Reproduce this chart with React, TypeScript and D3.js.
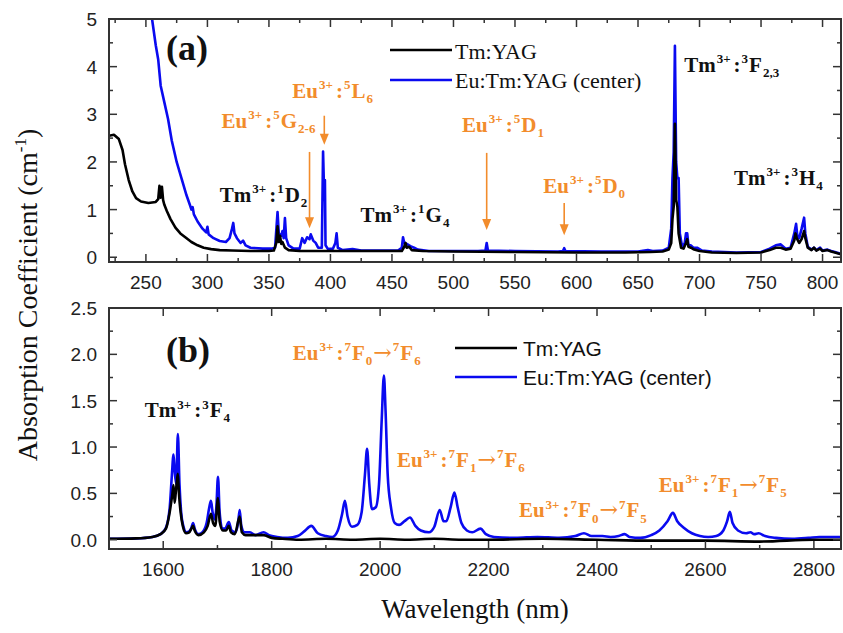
import React from "react";
import * as d3 from "d3";

// ---------- DATA ----------
// Panel (a): UV-VIS absorption, wavelength (nm) vs coefficient (cm^-1)
const tmTopData: [number, number][] = [
  [220, 2.55], [224, 2.57], [228, 2.48], [231, 2.25], [233, 1.95], [236, 1.62], [239, 1.38], [242, 1.24],
  [246, 1.17], [252, 1.14], [258, 1.16], [260, 1.22], [261, 1.5], [262, 1.25], [263, 1.48], [264, 1.2],
  [265, 1.1], [267, 0.97], [270, 0.8], [274, 0.62], [278, 0.5], [282, 0.42], [287, 0.32], [292, 0.25],
  [297, 0.2], [303, 0.17], [310, 0.15], [320, 0.14], [335, 0.13], [350, 0.13], [354, 0.14], [356, 0.3],
  [357, 0.65], [358, 0.32], [359, 0.45], [360, 0.28], [361, 0.32], [363, 0.2], [366, 0.15], [375, 0.13],
  [400, 0.13], [430, 0.13], [458, 0.13], [460, 0.22], [461, 0.3], [462, 0.2], [464, 0.22], [466, 0.15],
  [475, 0.13], [500, 0.12], [550, 0.11], [600, 0.1], [640, 0.1], [660, 0.11], [670, 0.12], [675, 0.16],
  [677, 0.3], [678, 0.8], [679, 1.06], [680, 2.8], [681, 1.2], [682, 1.06], [683, 0.5], [685, 0.2],
  [687, 0.18], [689, 0.3], [690, 0.38], [691, 0.22], [693, 0.2], [695, 0.17], [700, 0.13], [710, 0.1],
  [730, 0.09], [750, 0.1], [757, 0.15], [762, 0.2], [766, 0.2], [770, 0.16], [774, 0.18], [777, 0.35],
  [778, 0.5], [779, 0.4], [781, 0.3], [783, 0.38], [785, 0.55], [786, 0.4], [788, 0.2], [791, 0.15],
  [793, 0.2], [795, 0.14], [798, 0.18], [800, 0.13], [804, 0.15], [807, 0.12], [810, 0.1], [815, 0.06],
];

const euTopData: [number, number][] = [
  [248, 6.5], [252, 5.6], [255, 5.0], [258, 4.45], [260, 4.15], [262, 3.6], [265, 3.25], [268, 2.9],
  [271, 2.45], [275, 2.0], [279, 1.65], [283, 1.3], [286, 1.08], [287, 1.0], [288, 1.05], [289, 0.9],
  [292, 0.75], [296, 0.6], [299, 0.52], [300, 0.64], [301, 0.48], [305, 0.4], [310, 0.34], [315, 0.32],
  [318, 0.4], [320, 0.6], [321, 0.72], [322, 0.5], [324, 0.4], [327, 0.3], [329, 0.35], [331, 0.25],
  [335, 0.2], [345, 0.18], [352, 0.18], [355, 0.2], [357, 0.95], [358, 0.5], [360, 0.45], [361, 0.55],
  [362, 0.4], [363, 0.82], [364, 0.4], [366, 0.25], [370, 0.18], [375, 0.18], [377, 0.4], [379, 0.3],
  [381, 0.42], [383, 0.38], [384, 0.48], [386, 0.35], [388, 0.3], [390, 0.2], [393, 0.2], [394, 2.22],
  [395, 1.2], [395.5, 1.62], [396, 0.25], [398, 0.17], [402, 0.18], [404, 0.3], [405, 0.5], [406, 0.2],
  [410, 0.15], [418, 0.17], [425, 0.14], [440, 0.14], [455, 0.14], [458, 0.2], [459, 0.42], [460, 0.3],
  [462, 0.28], [464, 0.25], [466, 0.22], [468, 0.2], [471, 0.16], [480, 0.13], [500, 0.13], [520, 0.13],
  [526, 0.14], [527, 0.3], [528, 0.14], [550, 0.13], [585, 0.12], [589, 0.13], [590, 0.19], [591, 0.13],
  [620, 0.12], [650, 0.12], [658, 0.15], [662, 0.13], [670, 0.14], [675, 0.2], [677, 0.6], [678, 1.66],
  [679, 2.2], [680, 4.44], [681, 2.0], [682, 1.66], [683, 1.66], [684, 0.5], [686, 0.2], [688, 0.3],
  [689, 0.5], [690, 0.5], [691, 0.25], [693, 0.25], [695, 0.2], [698, 0.2], [702, 0.14], [710, 0.12],
  [730, 0.1], [750, 0.11], [757, 0.18], [762, 0.25], [766, 0.27], [770, 0.18], [774, 0.2], [777, 0.5],
  [778.5, 0.7], [779.5, 0.45], [781, 0.4], [783, 0.6], [785, 0.83], [786, 0.5], [788, 0.22], [791, 0.16],
  [793, 0.2], [795, 0.15], [798, 0.2], [800, 0.14], [804, 0.16], [807, 0.13], [810, 0.11], [815, 0.07],
];

// Panel (b): NIR absorption
const tmBotData: [number, number][] = [
  [1500, 0.01], [1550, 0.015], [1580, 0.03], [1595, 0.06], [1605, 0.12], [1612, 0.3], [1617, 0.5],
  [1619, 0.59], [1621, 0.4], [1623, 0.5], [1625, 0.62], [1627, 0.71], [1629, 0.5], [1632, 0.3],
  [1636, 0.15], [1642, 0.07], [1648, 0.08], [1652, 0.12], [1655, 0.15], [1658, 0.1], [1665, 0.05],
  [1675, 0.08], [1682, 0.15], [1688, 0.28], [1692, 0.18], [1696, 0.15], [1701, 0.45], [1704, 0.2],
  [1710, 0.1], [1716, 0.1], [1721, 0.15], [1725, 0.08], [1732, 0.06], [1741, 0.25], [1745, 0.08],
  [1752, 0.05], [1765, 0.05], [1785, 0.05], [1800, 0.02], [1820, 0.01], [1850, 0.0], [1900, 0.01],
  [1950, 0.0], [2000, 0.01], [2050, 0.0], [2100, 0.01], [2150, 0.0], [2200, 0.0], [2300, 0.01],
  [2400, 0.0], [2500, -0.01], [2600, -0.01], [2700, -0.02], [2800, 0.0], [2850, 0.0],
];

const euBotData: [number, number][] = [
  [1500, 0.01], [1550, 0.015], [1580, 0.03], [1595, 0.06], [1605, 0.13], [1612, 0.35], [1616, 0.7],
  [1619, 0.92], [1621, 0.75], [1624, 0.6], [1627, 1.14], [1630, 0.6], [1633, 0.3], [1637, 0.15],
  [1643, 0.08], [1648, 0.09], [1652, 0.13], [1655, 0.18], [1658, 0.12], [1665, 0.06], [1672, 0.08],
  [1680, 0.18], [1685, 0.35], [1688, 0.42], [1691, 0.3], [1695, 0.22], [1698, 0.35], [1701, 0.68],
  [1704, 0.3], [1709, 0.12], [1714, 0.12], [1721, 0.19], [1726, 0.1], [1733, 0.08], [1738, 0.18],
  [1741, 0.32], [1744, 0.15], [1750, 0.08], [1760, 0.08], [1770, 0.05], [1785, 0.08], [1795, 0.05],
  [1810, 0.03], [1830, 0.02], [1848, 0.04], [1860, 0.09], [1873, 0.15], [1885, 0.07], [1900, 0.04],
  [1912, 0.03], [1922, 0.1], [1930, 0.28], [1935, 0.42], [1940, 0.25], [1948, 0.14], [1958, 0.16],
  [1966, 0.3], [1972, 0.7], [1976, 0.98], [1980, 0.6], [1985, 0.33], [1992, 0.35], [1998, 0.6],
  [2003, 1.3], [2007, 1.77], [2010, 1.4], [2014, 0.7], [2020, 0.35], [2027, 0.18], [2035, 0.16],
  [2045, 0.2], [2055, 0.24], [2065, 0.15], [2075, 0.1], [2090, 0.08], [2100, 0.14], [2110, 0.32],
  [2117, 0.2], [2122, 0.2], [2130, 0.35], [2137, 0.51], [2143, 0.35], [2150, 0.18], [2160, 0.1],
  [2170, 0.08], [2185, 0.12], [2195, 0.06], [2210, 0.03], [2250, 0.02], [2290, 0.03], [2330, 0.02],
  [2360, 0.04], [2376, 0.07], [2390, 0.04], [2410, 0.04], [2425, 0.03], [2440, 0.04], [2451, 0.06],
  [2460, 0.03], [2480, 0.02], [2500, 0.05], [2515, 0.1], [2530, 0.2], [2540, 0.29], [2548, 0.2],
  [2560, 0.13], [2575, 0.07], [2590, 0.04], [2605, 0.03], [2620, 0.04], [2633, 0.1], [2640, 0.2],
  [2645, 0.3], [2650, 0.18], [2660, 0.1], [2675, 0.07], [2683, 0.08], [2690, 0.06], [2698, 0.07],
  [2710, 0.04], [2730, 0.02], [2760, 0.01], [2790, 0.02], [2810, 0.03], [2830, 0.03], [2850, 0.03],
];

const topXTicks = [250, 300, 350, 400, 450, 500, 550, 600, 650, 700, 750, 800];
const topYTicks = [0, 1, 2, 3, 4, 5];
const botXTicks = [1600, 1800, 2000, 2200, 2400, 2600, 2800];
const botYTicks = [0, 0.5, 1.0, 1.5, 2.0, 2.5];
const seriesNames = ["Tm:YAG", "Eu:Tm:YAG (center)"];

type Seg = { t: string; s?: "sup" | "sub" };
type Ann = { x: number; y: number; color: string; parts: Seg[] };

const ORANGE = "#f28c2c";
const BLUE = "#0a0af0";

const topAnns: Ann[] = [
  { x: 369, y: 3.35, color: ORANGE, parts: [{ t: "Eu" }, { t: "3+", s: "sup" }, { t: ":" }, { t: "5", s: "sup" }, { t: "L" }, { t: "6", s: "sub" }] },
  { x: 311.5, y: 2.72, color: ORANGE, parts: [{ t: "Eu" }, { t: "3+", s: "sup" }, { t: ":" }, { t: "5", s: "sup" }, { t: "G" }, { t: "2-6", s: "sub" }] },
  { x: 310, y: 1.16, color: "#111", parts: [{ t: "Tm" }, { t: "3+", s: "sup" }, { t: ":" }, { t: "1", s: "sup" }, { t: "D" }, { t: "2", s: "sub" }] },
  { x: 424.5, y: 0.74, color: "#111", parts: [{ t: "Tm" }, { t: "3+", s: "sup" }, { t: ":" }, { t: "1", s: "sup" }, { t: "G" }, { t: "4", s: "sub" }] },
  { x: 507, y: 2.63, color: ORANGE, parts: [{ t: "Eu" }, { t: "3+", s: "sup" }, { t: ":" }, { t: "5", s: "sup" }, { t: "D" }, { t: "1", s: "sub" }] },
  { x: 573, y: 1.35, color: ORANGE, parts: [{ t: "Eu" }, { t: "3+", s: "sup" }, { t: ":" }, { t: "5", s: "sup" }, { t: "D" }, { t: "0", s: "sub" }] },
  { x: 687.5, y: 3.89, color: "#111", parts: [{ t: "Tm" }, { t: "3+", s: "sup" }, { t: ":" }, { t: "3", s: "sup" }, { t: "F" }, { t: "2,3", s: "sub" }] },
  { x: 728, y: 1.52, color: "#111", parts: [{ t: "Tm" }, { t: "3+", s: "sup" }, { t: ":" }, { t: "3", s: "sup" }, { t: "H" }, { t: "4", s: "sub" }] },
];

const topArrows = [
  { x: 395, y1: 2.97, y2: 2.36 },
  { x: 383, y1: 2.21, y2: 0.61 },
  { x: 527, y1: 2.19, y2: 0.57 },
  { x: 590, y1: 1.14, y2: 0.46 },
];

const botAnns: Ann[] = [
  { x: 1566, y: 1.32, color: "#111", parts: [{ t: "Tm" }, { t: "3+", s: "sup" }, { t: ":" }, { t: "3", s: "sup" }, { t: "F" }, { t: "4", s: "sub" }] },
  { x: 1839, y: 1.94, color: ORANGE, parts: [{ t: "Eu" }, { t: "3+", s: "sup" }, { t: ":" }, { t: "7", s: "sup" }, { t: "F" }, { t: "0", s: "sub" }, { t: "→" }, { t: "7", s: "sup" }, { t: "F" }, { t: "6", s: "sub" }] },
  { x: 2031, y: 0.79, color: ORANGE, parts: [{ t: "Eu" }, { t: "3+", s: "sup" }, { t: ":" }, { t: "7", s: "sup" }, { t: "F" }, { t: "1", s: "sub" }, { t: "→" }, { t: "7", s: "sup" }, { t: "F" }, { t: "6", s: "sub" }] },
  { x: 2256, y: 0.24, color: ORANGE, parts: [{ t: "Eu" }, { t: "3+", s: "sup" }, { t: ":" }, { t: "7", s: "sup" }, { t: "F" }, { t: "0", s: "sub" }, { t: "→" }, { t: "7", s: "sup" }, { t: "F" }, { t: "5", s: "sub" }] },
  { x: 2514, y: 0.52, color: ORANGE, parts: [{ t: "Eu" }, { t: "3+", s: "sup" }, { t: ":" }, { t: "7", s: "sup" }, { t: "F" }, { t: "1", s: "sub" }, { t: "→" }, { t: "7", s: "sup" }, { t: "F" }, { t: "5", s: "sub" }] },
];

// ---------- LAYOUT ----------
const W = 843, H = 633;
const L = 109, R = 841;
const topP = { t: 19, b: 262 };
const botP = { t: 308, b: 549 };
const SERIF = "'Liberation Serif', 'Times New Roman', serif";
const SANS = "'Liberation Sans', Arial, sans-serif";

const xTop = d3.scaleLinear().domain([220, 815]).range([L, R]);
const yTop = d3.scaleLinear().domain([-0.1, 5]).range([topP.b, topP.t]);
const xBot = d3.scaleLinear().domain([1500, 2850]).range([L, R]);
const yBot = d3.scaleLinear().domain([-0.1, 2.5]).range([botP.b, botP.t]);

function AnnText({ a, x, y, size }: { a: Ann; x: any; y: any; size: number }) {
  const bx = x(a.x), by = y(a.y);
  const small = size * 0.62;
  return (
    <text x={bx} y={by} fill={a.color} fontFamily={SERIF} fontWeight="bold" fontSize={size}>
      {a.parts.map((p, i) => {
        if (p.s === "sup") return <tspan key={i} y={by - size * 0.42} fontSize={small} dx={1}>{p.t}</tspan>;
        if (p.s === "sub") return <tspan key={i} y={by + size * 0.24} fontSize={small} dx={1}>{p.t}</tspan>;
        const dx = p.t === ":" ? 3 : p.t === "→" ? 1 : i === 0 ? 0 : 1;
        if (p.t === "→") {
          return <tspan key={i} y={by} dx={dx} fontFamily="'DejaVu Serif', serif" fontWeight="normal" fontSize={size * 1.05}>{p.t}</tspan>;
        }
        return <tspan key={i} y={by} dx={dx}>{p.t}</tspan>;
      })}
    </text>
  );
}

function Frame({ x, y, xTicks, xMinor, yTicks, yMinor, fmtY, p }: any) {
  const major = 8, minor = 4;
  return (
    <g stroke="#333" strokeWidth={1.5}>
      {xTicks.concat(xMinor).map((v: number, i: number) => {
        const len = i < xTicks.length ? major : minor;
        const px = x(v);
        return (
          <g key={"x" + v}>
            <line x1={px} x2={px} y1={p.b} y2={p.b - len} />
            <line x1={px} x2={px} y1={p.t} y2={p.t + len} />
          </g>
        );
      })}
      {yTicks.concat(yMinor).map((v: number, i: number) => {
        const len = i < yTicks.length ? major : minor;
        const py = y(v);
        return (
          <g key={"y" + v}>
            <line x1={L} x2={L + len} y1={py} y2={py} />
            <line x1={R} x2={R - len} y1={py} y2={py} />
          </g>
        );
      })}
      <rect x={L} y={p.t} width={R - L} height={p.b - p.t} fill="none" strokeWidth={2} />
      <g stroke="none" fill="#222" fontFamily={SANS} fontSize={19}>
        {xTicks.map((v: number) => (
          <text key={"xl" + v} x={x(v)} y={p.b + 27} textAnchor="middle">{v}</text>
        ))}
        {yTicks.map((v: number) => (
          <text key={"yl" + v} x={97} y={y(v) + 7} textAnchor="end">{fmtY(v)}</text>
        ))}
      </g>
    </g>
  );
}

export default function App() {
  const lineTop = d3.line<[number, number]>().x((d) => xTop(d[0])).y((d) => yTop(d[1]));
  const lineBot = d3.line<[number, number]>().x((d) => xBot(d[0])).y((d) => yBot(d[1])).curve(d3.curveMonotoneX);

  const topMinorX = d3.range(225, 815, 25).filter((v) => v % 50 !== 0);
  const topMinorY = d3.range(0.5, 5, 1);
  const botMinorX = d3.range(1500, 2850, 100).filter((v) => v % 200 !== 0);
  const botMinorY = d3.range(0.25, 2.5, 0.5);

  return (
    <svg width={W} height={H} style={{ position: "absolute", left: 0, top: 0, background: "#fff" }}>
      <defs>
        <clipPath id="clipTop"><rect x={L} y={topP.t} width={R - L} height={topP.b - topP.t} /></clipPath>
        <clipPath id="clipBot"><rect x={L} y={botP.t} width={R - L} height={botP.b - botP.t} /></clipPath>
      </defs>
      <rect width={W} height={H} fill="#fff" />

      {/* Panel (a) */}
      <g clipPath="url(#clipTop)" fill="none" strokeWidth={2.6} strokeLinejoin="round">
        <path d={lineTop(euTopData) || ""} stroke={BLUE} />
        <path d={lineTop(tmTopData) || ""} stroke="#000" />
      </g>
      <Frame x={xTop} y={yTop} xTicks={topXTicks} xMinor={topMinorX} yTicks={topYTicks} yMinor={topMinorY}
        fmtY={(v: number) => String(v)} p={topP} />
      <text x={xTop(266.3)} y={yTop(4.15)} fontFamily={SERIF} fontWeight="bold" fontSize={36} fill="#111">(a)</text>
      {topAnns.map((a, i) => <AnnText key={i} a={a} x={xTop} y={yTop} size={21} />)}
      {topArrows.map((ar, i) => {
        const px = xTop(ar.x), p1 = yTop(ar.y1), p2 = yTop(ar.y2);
        return (
          <g key={i}>
            <line x1={px} x2={px} y1={p1} y2={p2 - 9} stroke={ORANGE} strokeWidth={1.6} />
            <path d={`M${px - 4.5},${p2 - 11} L${px + 4.5},${p2 - 11} L${px},${p2} Z`} fill={ORANGE} />
          </g>
        );
      })}
      {/* legend (a) */}
      <g fontFamily={SERIF} fontSize={22} fill="#111">
        <line x1={390} x2={452} y1={50} y2={50} stroke="#000" strokeWidth={2.5} />
        <text x={455} y={59}>{seriesNames[0]}</text>
        <line x1={390} x2={452} y1={80} y2={80} stroke={BLUE} strokeWidth={2.5} />
        <text x={455} y={88}>{seriesNames[1]}</text>
      </g>

      {/* Panel (b) */}
      <g clipPath="url(#clipBot)" fill="none" strokeWidth={2.6} strokeLinejoin="round">
        <path d={lineBot(euBotData) || ""} stroke={BLUE} />
        <path d={lineBot(tmBotData) || ""} stroke="#000" />
      </g>
      <Frame x={xBot} y={yBot} xTicks={botXTicks} xMinor={botMinorX} yTicks={botYTicks} yMinor={botMinorY}
        fmtY={(v: number) => v.toFixed(1)} p={botP} />
      <text x={xBot(1605)} y={yBot(1.92)} fontFamily={SERIF} fontWeight="bold" fontSize={36} fill="#111">(b)</text>
      {botAnns.map((a, i) => <AnnText key={i} a={a} x={xBot} y={yBot} size={21} />)}
      <g fontFamily={SANS} fontSize={21} fill="#111">
        <line x1={455} x2={517} y1={348} y2={348} stroke="#000" strokeWidth={2.5} />
        <text x={523} y={356}>{seriesNames[0]}</text>
        <line x1={455} x2={517} y1={377} y2={377} stroke={BLUE} strokeWidth={2.5} />
        <text x={523} y={385}>{seriesNames[1]}</text>
      </g>

      {/* axis titles */}
      <text transform={`translate(37,295) rotate(-90)`} textAnchor="middle" fontFamily={SERIF} fontSize={28} fill="#111">
        Absorption Coefficient (cm<tspan dy={-11} fontSize={17}>-1</tspan><tspan dy={11}>)</tspan>
      </text>
      <text x={475} y={618} textAnchor="middle" fontFamily={SERIF} fontSize={27} fill="#111">Wavelength (nm)</text>
    </svg>
  );
}
